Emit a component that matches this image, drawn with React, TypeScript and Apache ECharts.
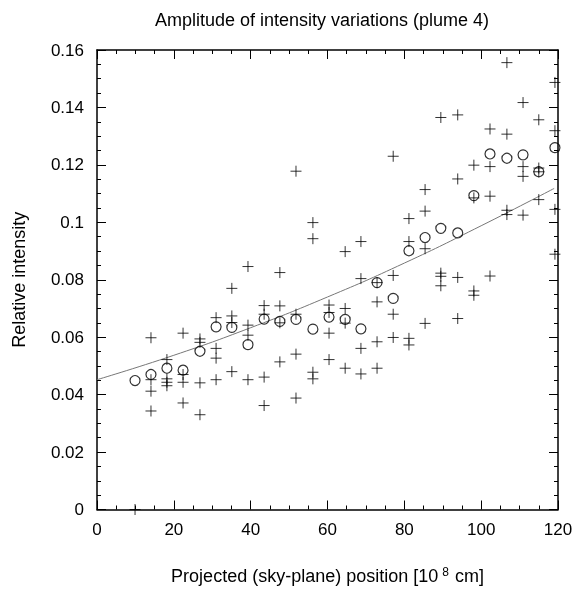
import React, { useEffect, useRef } from 'react';
import * as echarts from 'echarts';

// Projected (sky-plane) positions of the sample columns [10^8 cm]
const positions = [9.9, 14.05, 18.2, 22.4, 26.8, 31.0, 35.1, 39.3, 43.5, 47.6, 51.8, 56.2, 60.4, 64.6, 68.7, 72.9, 77.1, 81.2, 85.4, 89.5, 93.9, 98.1, 102.3, 106.7, 110.9, 115.0, 119.2];

// Circles: average relative intensity at each position
const meanIntensity = [0.0449, 0.047, 0.0492, 0.0485, 0.0551, 0.0636, 0.0634, 0.0574, 0.0663, 0.0655, 0.0662, 0.0628, 0.067, 0.0662, 0.0629, 0.079, 0.0735, 0.0901, 0.0947, 0.0979, 0.0963, 0.1093, 0.1238, 0.1223, 0.1235, 0.1176, 0.126];

// Crosses: individual measurements (up to four per position)
const sampleA = [0, 0.0598, 0.0522, 0.0614, 0.0594, 0.0668, 0.077, 0.0846, 0.071, 0.0825, 0.1178, 0.0999, 0.0712, 0.0898, 0.0933, 0.079, 0.123, 0.1013, 0.1114, 0.1365, 0.1374, 0.1199, 0.1325, 0.1556, 0.1417, 0.1357, 0.1487];
const sampleB = [null, 0.0452, 0.0455, 0.047, 0.0582, 0.0561, 0.0674, 0.0642, 0.068, 0.0709, 0.068, 0.0943, 0.0686, 0.07, 0.0804, 0.0723, 0.0815, 0.0933, 0.1039, 0.0823, 0.1151, 0.1085, 0.1194, 0.1307, 0.1194, 0.1189, 0.1319];
const sampleC = [null, 0.0412, 0.0443, 0.0443, 0.0441, 0.0527, 0.0651, 0.0607, 0.0461, 0.065, 0.0541, 0.0478, 0.0614, 0.0649, 0.0561, 0.0584, 0.068, 0.0596, 0.0908, 0.0812, 0.0808, 0.0761, 0.1091, 0.1042, 0.116, 0.1176, 0.1045];
const sampleD = [null, 0.0343, 0.0431, 0.0371, 0.033, 0.0452, 0.048, 0.0452, 0.0362, 0.0514, 0.0388, 0.0455, 0.0522, 0.0492, 0.0472, 0.0492, 0.0599, 0.0573, 0.0648, 0.0779, 0.0665, 0.0746, 0.0813, 0.1027, 0.1025, 0.1079, 0.0889];

// Fitted trend curve
const fitX = [0, 20, 40, 60, 80, 100, 119];
const fitY = [0.0452, 0.0537, 0.0633, 0.074, 0.0858, 0.0988, 0.1118];

const titleText = 'Amplitude of intensity variations (plume 4)';
const yTitle = 'Relative intensity';

export default function App() {
  const ref = useRef<HTMLDivElement>(null);
  useEffect(() => {
    const chart = echarts.init(ref.current as HTMLDivElement, null, { renderer: 'svg' });
    const fontFamily = '"Liberation Sans", Arial, sans-serif';
    const plusPoints: number[][] = [];
    [sampleA, sampleB, sampleC, sampleD].forEach((s) =>
      s.forEach((v, i) => {
        if (v !== null && v !== undefined) plusPoints.push([positions[i], v as number]);
      })
    );
    const meanPoints = positions.map((x, i) => [x, meanIntensity[i]]);
    const fitPoints = fitX.map((x, i) => [x, fitY[i]]);

    const axisLine = { show: true, onZero: false, lineStyle: { color: '#000', width: 1.5 } };
    const tick = { show: true, inside: true, length: 9, lineStyle: { color: '#000', width: 1 } };
    const minorTick = { show: true, splitNumber: 4, length: 4, lineStyle: { color: '#000', width: 1 } };
    const labelStyle = { color: '#000', fontSize: 17, fontFamily };
    const nameStyle = { color: '#000', fontSize: 18, fontFamily };

    const xBase = { type: 'value', min: 0, max: 120, interval: 20, axisLine, axisTick: tick, minorTick, splitLine: { show: false }, minorSplitLine: { show: false } };
    const yBase = { type: 'value', min: 0, max: 0.16, interval: 0.02, axisLine, axisTick: tick, minorTick, splitLine: { show: false }, minorSplitLine: { show: false } };

    chart.setOption({
      animation: false,
      grid: { left: 97, right: 18, top: 50, bottom: 79, containLabel: false },
      xAxis: [
        {
          ...xBase,
          position: 'bottom',
          axisLabel: { ...labelStyle, margin: 11 },
          name: 'Projected (sky-plane) position [10{sup|8} cm]',
          nameLocation: 'middle',
          nameGap: 56,
          nameTextStyle: {
            ...nameStyle,
            rich: {
              sup: { fontSize: 12, fontFamily, color: '#000', padding: [0, 1, 9, 4] },
            },
          },
        },
        { ...xBase, position: 'top', axisLabel: { show: false } },
      ],
      yAxis: [
        {
          ...yBase,
          position: 'left',
          axisLabel: { ...labelStyle, margin: 13 },
          name: yTitle,
          nameLocation: 'middle',
          nameGap: 69,
          nameTextStyle: { ...nameStyle },
        },
        { ...yBase, position: 'right', axisLabel: { show: false } },
      ],
      graphic: [
        {
          type: 'text',
          x: 322,
          y: 20,
          style: {
            text: titleText,
            fill: '#000',
            font: `18px ${fontFamily}`,
            textAlign: 'center',
            textVerticalAlign: 'middle',
          },
        },
      ],
      series: [
        {
          type: 'line',
          data: fitPoints,
          smooth: true,
          showSymbol: false,
          symbol: 'none',
          lineStyle: { color: '#777', width: 1 },
          z: 1,
        },
        {
          type: 'scatter',
          data: plusPoints,
          symbol: 'path://M0,5L10,5M5,0L5,10',
          symbolSize: 11,
          clip: false,
          itemStyle: { color: 'none', borderColor: '#000', borderWidth: 1 },
          z: 2,
        },
        {
          type: 'scatter',
          data: meanPoints,
          symbol: 'circle',
          symbolSize: 10,
          clip: false,
          itemStyle: { color: 'none', borderColor: '#000', borderWidth: 1.2 },
          z: 3,
        },
      ],
    });
    return () => chart.dispose();
  }, []);
  return <div ref={ref} style={{ position: 'fixed', left: 0, top: 0, width: 576, height: 590 }} />;
}
